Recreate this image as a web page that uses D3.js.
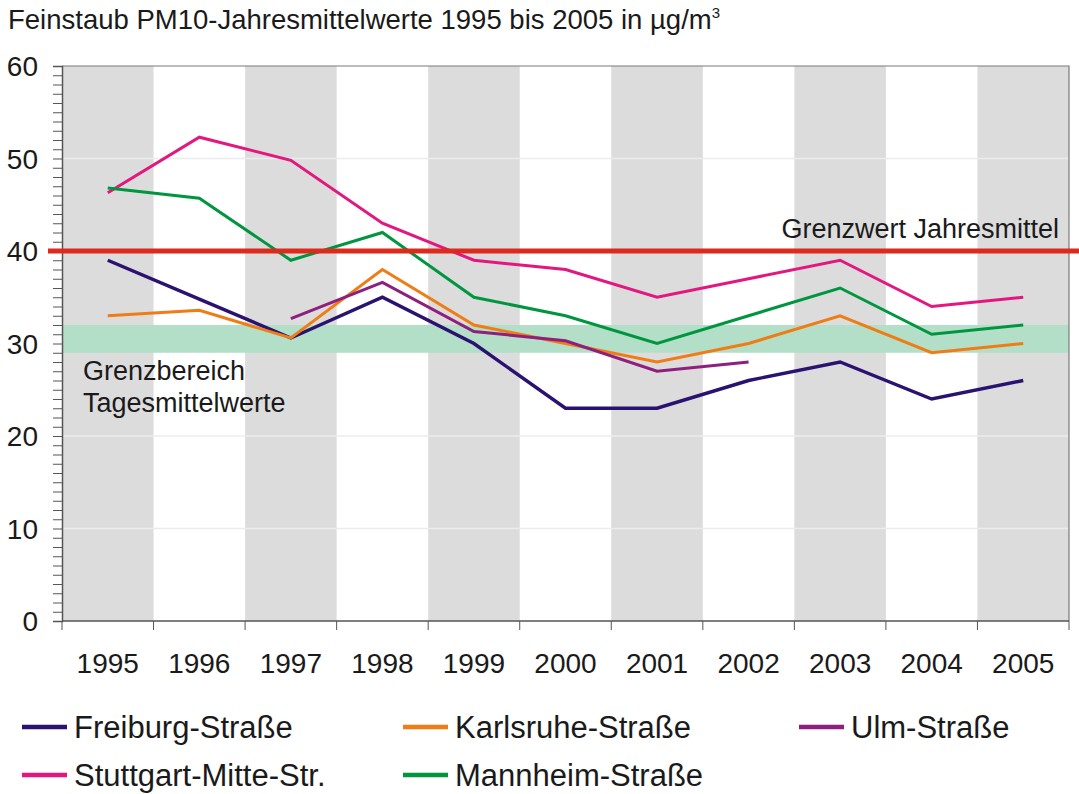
<!DOCTYPE html>
<html>
<head>
<meta charset="utf-8">
<script src="https://cdn.jsdelivr.net/npm/d3@7"></script>
<style>
  body { margin: 0; background: #fff; }
  text { font-family: "Liberation Sans", Arial, sans-serif; fill: #1a1a1a; }
</style>
</head>
<body>
<div id="vis"></div>
<script>
// values (µg/m3)
let years = [1995, 1996, 1997, 1998, 1999, 2000, 2001, 2002, 2003, 2004, 2005];
let freiburg  = [39, 34.8, 30.6, 35, 30, 23, 23, 26, 28, 24, 26];
let karlsruhe = [33, 33.6, 30.6, 38, 32, 30, 28, 30, 33, 29, 30];
let ulm       = [null, null, 32.7, 36.6, 31.3, 30.3, 27, 28, null, null, null];
let stuttgart = [46.3, 52.3, 49.8, 43, 39, 38, 35, 37, 39, 34, 35];
let mannheim  = [46.8, 45.7, 39, 42, 35, 33, 30, 33, 36, 31, 32];

let seriesNames = ['Freiburg-Straße', 'Karlsruhe-Straße', 'Ulm-Straße', 'Stuttgart-Mitte-Str.', 'Mannheim-Straße'];
let seriesValues = [freiburg, karlsruhe, ulm, stuttgart, mannheim];
let seriesColors = ['#2a1270', '#ee7d16', '#8e1f7d', '#e2177f', '#00963f'];

let yTicks = [0, 10, 20, 30, 40, 50, 60];
let limitValue = 40;            // Grenzwert Jahresmittel
let dailyRange = [29, 32];      // Grenzbereich Tagesmittelwerte

let width = 1079, height = 794;
let margin = { top: 66, left: 62, right: 10, bottom: 173 };

let svg = d3.select('#vis')
  .append('svg')
  .attr('width', width)
  .attr('height', height);

let x = d3.scaleBand()
  .domain(years)
  .range([margin.left, width - margin.right])
  .padding(0);

let y = d3.scaleLinear()
  .domain([0, 60])
  .range([height - margin.bottom, margin.top]);

// alternating grey year bands
svg.append('g')
  .selectAll('rect')
  .data(years.filter((d, i) => i % 2 === 0))
  .enter().append('rect')
    .attr('x', d => x(d))
    .attr('y', y(60))
    .attr('width', x.bandwidth())
    .attr('height', y(0) - y(60))
    .attr('fill', '#dcdcdc');

// horizontal gridlines
svg.append('g')
  .selectAll('line')
  .data(yTicks.filter(d => d > 0 && d < 60))
  .enter().append('line')
    .attr('x1', x.range()[0])
    .attr('x2', x.range()[1])
    .attr('y1', d => y(d))
    .attr('y2', d => y(d))
    .attr('stroke', '#ececec')
    .attr('stroke-width', 1.5);

// green band
svg.append('rect')
  .attr('x', x.range()[0])
  .attr('width', x.range()[1] - x.range()[0])
  .attr('y', y(dailyRange[1]))
  .attr('height', y(dailyRange[0]) - y(dailyRange[1]))
  .attr('fill', '#b3dec8');

// frame top + right
svg.append('path')
  .attr('d', 'M' + x.range()[0] + ',' + y(60) + 'H' + x.range()[1] + 'V' + y(0))
  .attr('fill', 'none')
  .attr('stroke', '#7a7a7a')
  .attr('stroke-width', 1.2);

// y axis with minor ticks every 1
let yAxis = svg.append('g')
  .attr('transform', 'translate(' + margin.left + ',0)')
  .call(d3.axisLeft(y).ticks(60).tickSize(9).tickFormat(''));
yAxis.select('.domain').attr('stroke', '#555').attr('stroke-width', 1.5);
yAxis.selectAll('.tick line').attr('stroke', '#555').attr('stroke-width', 1);

svg.append('g')
  .selectAll('text')
  .data(yTicks)
  .enter().append('text')
    .attr('x', 38)
    .attr('y', d => y(d) + 10)
    .attr('text-anchor', 'end')
    .style('font-size', '28px')
    .text(d => d);

// x axis: ticks at band edges
let xAxis = svg.append('g')
  .attr('transform', 'translate(0,' + y(0) + ')');
xAxis.append('line')
  .attr('x1', x.range()[0]).attr('x2', x.range()[1])
  .attr('stroke', '#555').attr('stroke-width', 1.5);
xAxis.selectAll('.edge')
  .data(years.concat([null]))
  .enter().append('line')
    .attr('class', 'edge')
    .attr('x1', (d, i) => x.range()[0] + i * x.bandwidth())
    .attr('x2', (d, i) => x.range()[0] + i * x.bandwidth())
    .attr('y1', 0).attr('y2', 9)
    .attr('stroke', '#555');
xAxis.selectAll('text')
  .data(years)
  .enter().append('text')
    .attr('x', d => x(d) + x.bandwidth() / 2)
    .attr('y', 52)
    .attr('text-anchor', 'middle')
    .style('font-size', '28px')
    .text(d => d);

// data lines
let line = d3.line()
  .defined(d => d.v !== null)
  .x(d => x(d.year) + x.bandwidth() / 2)
  .y(d => y(d.v));

seriesValues.forEach(function(vals, i) {
  svg.append('path')
    .datum(years.map((yr, j) => ({ year: yr, v: vals[j] })))
    .attr('fill', 'none')
    .attr('stroke', seriesColors[i])
    .attr('stroke-width', i === 0 ? 3.4 : 3)
    .attr('d', line);
});

// limit line
svg.append('line')
  .attr('x1', 48).attr('x2', width)
  .attr('y1', y(limitValue)).attr('y2', y(limitValue))
  .attr('stroke', '#dc2b1c')
  .attr('stroke-width', 5);

svg.append('text')
  .attr('x', 1059).attr('y', y(limitValue) - 13)
  .attr('text-anchor', 'end')
  .style('font-size', '27px')
  .text('Grenzwert Jahresmittel');

svg.append('text')
  .attr('x', 83).attr('y', 380)
  .style('font-size', '27px')
  .text('Grenzbereich');
svg.append('text')
  .attr('x', 83).attr('y', 412)
  .style('font-size', '27px')
  .text('Tagesmittelwerte');

// title
let title = svg.append('text')
  .attr('x', 8).attr('y', 29)
  .style('font-size', '27.5px')
  .text('Feinstaub PM10-Jahresmittelwerte 1995 bis 2005 in µg/m');
title.append('tspan')
  .attr('dy', -11)
  .style('font-size', '15px')
  .text('3');

// legend
let legendX = [22, 403, 799, 22, 403];
let legendY = [727, 727, 727, 775, 775];
let legend = svg.append('g')
  .selectAll('g')
  .data(seriesNames)
  .enter().append('g')
    .attr('transform', (d, i) => 'translate(' + legendX[i] + ',' + legendY[i] + ')');
legend.append('line')
  .attr('x1', 0).attr('x2', 45)
  .attr('stroke', (d, i) => seriesColors[i])
  .attr('stroke-width', 4.5);
legend.append('text')
  .attr('x', 52).attr('y', 11)
  .style('font-size', '31px')
  .text(d => d);
</script>
</body>
</html>
